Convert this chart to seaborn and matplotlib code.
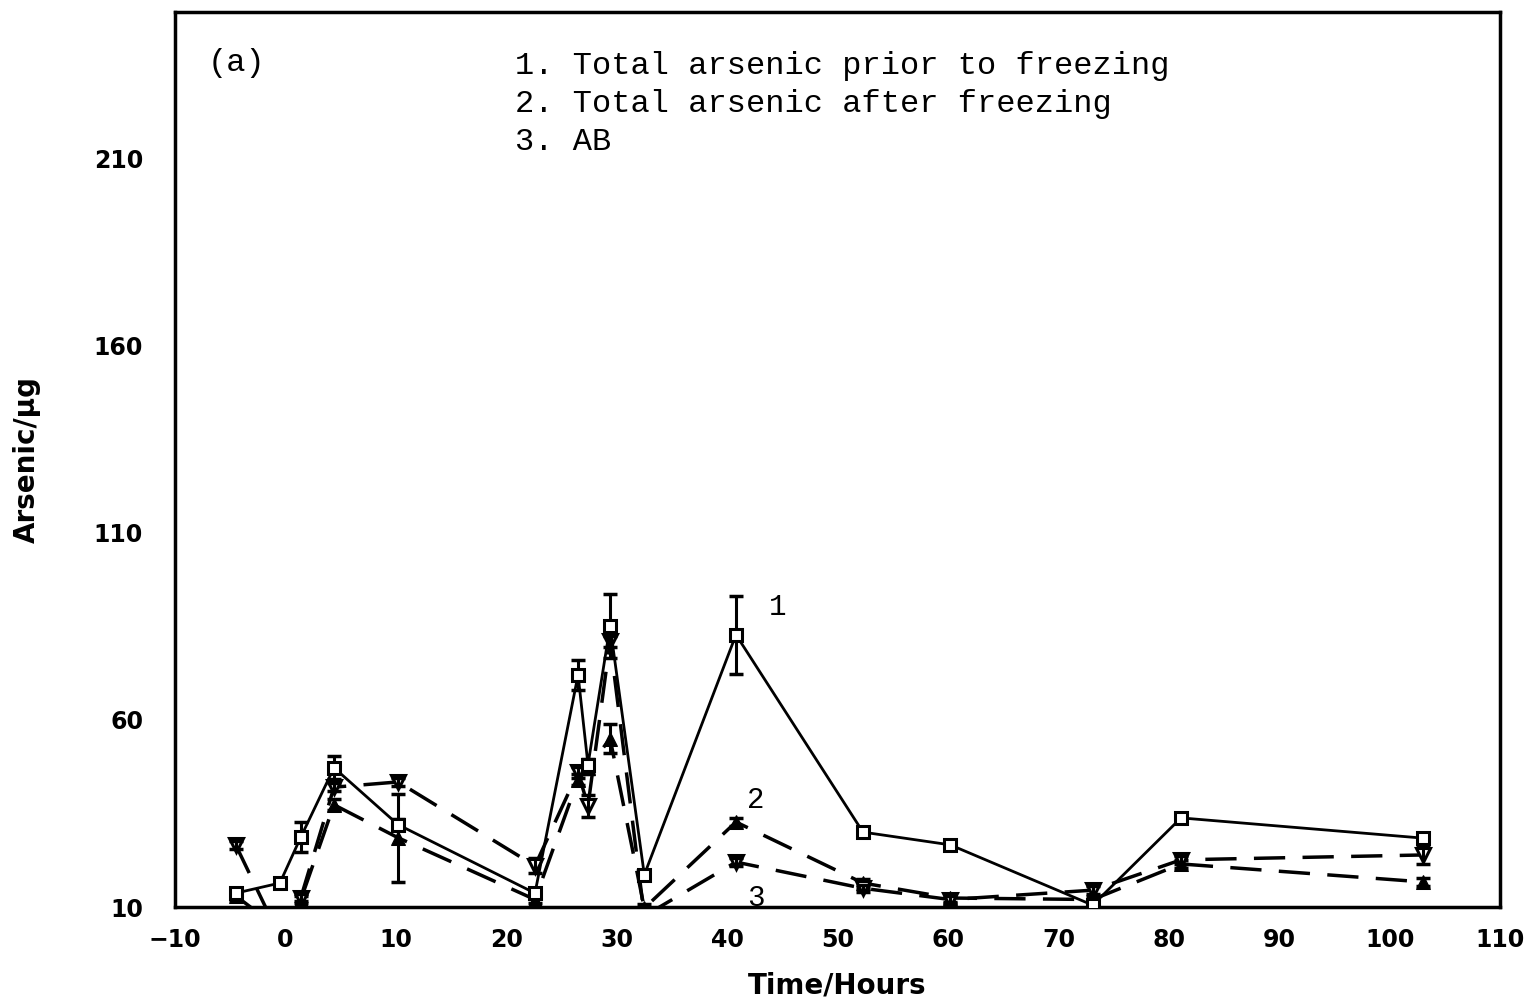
import numpy as np
import pandas as pd
import matplotlib
matplotlib.use("Agg")
import matplotlib.pyplot as plt
import seaborn as sns

# ---- data ----
time_h = [-4.5, -0.5, 1.4, 4.4, 10.2, 22.6, 26.5, 27.4, 29.4, 32.5, 40.8, 52.3, 60.2, 73.1, 81.1, 103.0]
total_prior = [13.7, 16.4, 28.7, 47.2, 32.0, 13.7, 72.0, 48.0, 85.0, 18.6, 82.7, 30.0, 26.6, 10.5, 33.8, 28.4]
total_prior_err = [1.0, 1.0, 4.0, 3.0, 1.5, 1.0, 4.0, 1.5, 8.5, 1.0, 10.4, 1.0, 1.0, 1.0, 1.0, 1.0]
total_after = [13.0, 4.0, 12.0, 37.3, 28.5, 12.0, 44.0, 47.0, 55.0, 9.7, 32.7, 16.4, 12.4, 12.0, 21.5, 16.7]
total_after_err = [1.0, 1.0, 1.0, 1.5, 11.7, 1.0, 1.5, 1.5, 4.0, 1.0, 1.0, 1.0, 1.0, 1.0, 1.0, 1.0]
ab = [26.6, 2.0, 12.5, 42.0, 43.4, 21.0, 46.0, 37.0, 81.0, 7.6, 22.0, 15.0, 12.0, 14.5, 22.6, 23.9]
ab_err = [1.0, 1.0, 1.0, 1.0, 1.0, 2.0, 1.5, 3.0, 1.5, 1.0, 1.0, 1.0, 1.0, 1.0, 1.0, 2.5]

legend_lines = ["1. Total arsenic prior to freezing",
                "2. Total arsenic after freezing",
                "3. AB"]
panel_label = "(a)"
x_ticks = [-10, 0, 10, 20, 30, 40, 50, 60, 70, 80, 90, 100, 110]
y_ticks = [10, 60, 110, 160, 210]

df = pd.DataFrame({"t": time_h, "s1": total_prior, "s2": total_after, "s3": ab})

sns.set_theme(style="white")
plt.rcParams["font.family"] = ["DejaVu Sans"]
plt.rcParams["text.color"] = "black"
plt.rcParams["axes.labelcolor"] = "black"

fig = plt.figure(figsize=(15.28, 10.05), dpi=100)
ax = fig.add_axes([0.1145, 0.0975, 0.8673, 0.8905])

dash = (0, (9, 5))
# series 1: solid, open squares
sns.lineplot(data=df, x="t", y="s1", ax=ax, sort=False, color="black", lw=2.0,
             marker="s", markersize=9, markerfacecolor="white", markeredgecolor="black",
             markeredgewidth=2.2, zorder=5)
ax.errorbar(time_h, total_prior, yerr=total_prior_err, fmt="none", ecolor="black",
            elinewidth=2.2, capsize=5, capthick=2.5, zorder=4)
# series 2: dashed, filled up-triangles
sns.lineplot(data=df, x="t", y="s2", ax=ax, sort=False, color="black", lw=2.5,
             linestyle=dash, marker="^", markersize=10, markerfacecolor="black",
             markeredgecolor="black", zorder=4)
ax.errorbar(time_h, total_after, yerr=total_after_err, fmt="none", ecolor="black",
            elinewidth=2.2, capsize=5, capthick=2.5, zorder=4)
# series 3: dashed, open down-triangles
sns.lineplot(data=df, x="t", y="s3", ax=ax, sort=False, color="black", lw=2.5,
             linestyle=dash, marker="v", markersize=10, markerfacecolor="white",
             markeredgecolor="black", markeredgewidth=2.2, zorder=4)
ax.errorbar(time_h, ab, yerr=ab_err, fmt="none", ecolor="black",
            elinewidth=2.2, capsize=5, capthick=2.5, zorder=4)

ax.set_xlim(-10, 110)
ax.set_ylim(10, 249)
ax.set_xticks(x_ticks)
ax.set_yticks(y_ticks)
ax.set_xticklabels([f"\u2212{abs(v)}" if v < 0 else str(v) for v in x_ticks],
                   fontsize=17, fontweight="bold")
ax.set_yticklabels([str(v) for v in y_ticks], fontsize=17, fontweight="bold")
ax.tick_params(axis="both", direction="in", length=11, width=2, colors="black")
ax.tick_params(axis="y", pad=23)
ax.tick_params(axis="x", pad=15)
for s in ax.spines.values():
    s.set_linewidth(2.5)
    s.set_color("black")

ax.set_xlabel("Time/Hours", fontsize=20, fontweight="bold", labelpad=14)
ax.set_ylabel("Arsenic/\u03bcg", fontsize=20, fontweight="bold", labelpad=38)
ax.grid(False)

mono = "Liberation Mono"
ax.text(-7.0, 235.5, panel_label, fontsize=23, family=mono, va="center", ha="left")
for i, line in enumerate(legend_lines):
    ax.text(20.8, 234.5 - i * 10.1, line, fontsize=23, family=mono, va="center", ha="left")

ax.text(43.8, 90, "1", fontsize=21, family=mono, va="center", ha="left")
ax.text(41.8, 38.5, "2", fontsize=21, family=mono, va="center", ha="left")
ax.text(41.8, 12.5, "3", fontsize=21, family=mono, va="center", ha="left", clip_on=True)

fig.savefig("out.png", dpi=100)
